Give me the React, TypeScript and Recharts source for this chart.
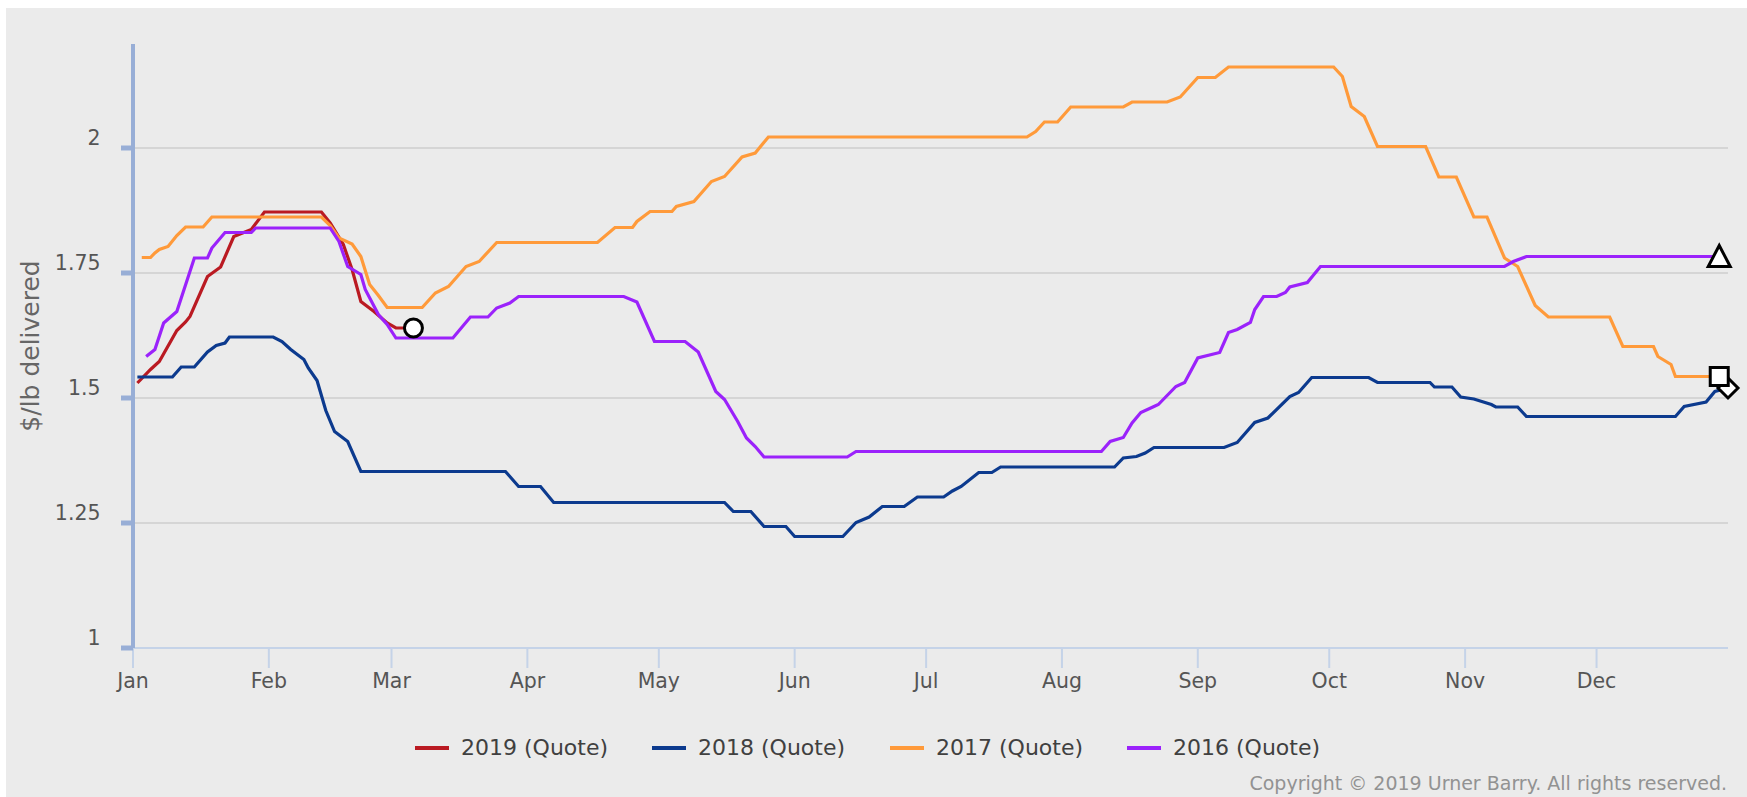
import { LineChart, Line, XAxis, YAxis, CartesianGrid } from 'recharts'

// day of year (0 = Jan 1) and $/lb
const quote2019: [number, number][] = [
  [1, 1.53], [4, 1.557], [6, 1.573], [10, 1.635], [12, 1.652], [13, 1.663], [17, 1.743],
  [20, 1.762], [23, 1.823], [25, 1.83], [27, 1.837], [30, 1.872], [43, 1.872], [45, 1.85],
  [48, 1.807], [50, 1.757], [52, 1.693], [55, 1.673], [58, 1.65], [60, 1.64], [64, 1.64],
]

const quote2018: [number, number][] = [
  [1, 1.542], [9, 1.542], [11, 1.562], [14, 1.562], [17, 1.592], [19, 1.605], [21, 1.61],
  [22, 1.622], [32, 1.622], [34, 1.613], [36, 1.597], [39, 1.577], [40, 1.56], [42, 1.535],
  [44, 1.475], [46, 1.433], [49, 1.413], [52, 1.353], [85, 1.353], [88, 1.323], [93, 1.323],
  [96, 1.291], [135, 1.291], [137, 1.273], [141, 1.273], [144, 1.243], [149, 1.243],
  [151, 1.223], [162, 1.223], [165, 1.251], [168, 1.262], [171, 1.283], [176, 1.283],
  [179, 1.302], [185, 1.302], [187, 1.314], [189, 1.323], [193, 1.351], [196, 1.351],
  [198, 1.362], [224, 1.362], [226, 1.38], [229, 1.383], [231, 1.39], [233, 1.401],
  [249, 1.401], [252, 1.411], [256, 1.451], [259, 1.46], [264, 1.503], [266, 1.511],
  [269, 1.541], [282, 1.541], [284, 1.531], [296, 1.531], [297, 1.522], [301, 1.522],
  [303, 1.502], [306, 1.498], [310, 1.487], [311, 1.482], [316, 1.482], [318, 1.463],
  [352, 1.463], [354, 1.483], [359, 1.492], [361, 1.513], [364, 1.52],
]

const quote2017: [number, number][] = [
  [2, 1.781], [4, 1.781], [5, 1.79], [6, 1.797], [8, 1.803], [10, 1.825], [12, 1.842],
  [16, 1.842], [18, 1.862], [43, 1.862], [45, 1.845], [47, 1.82], [50, 1.808], [52, 1.783],
  [54, 1.727], [56, 1.705], [58, 1.681], [66, 1.681], [69, 1.71], [72, 1.723], [76, 1.763],
  [79, 1.773], [83, 1.811], [106, 1.811], [110, 1.841], [114, 1.841], [115, 1.853],
  [118, 1.873], [123, 1.873], [124, 1.883], [128, 1.893], [132, 1.933], [135, 1.943],
  [139, 1.982], [142, 1.99], [145, 2.022], [204, 2.022], [206, 2.033], [208, 2.052],
  [211, 2.052], [214, 2.082], [226, 2.082], [228, 2.092], [236, 2.092], [239, 2.102],
  [243, 2.141], [247, 2.141], [250, 2.162], [274, 2.162], [276, 2.143], [278, 2.083],
  [281, 2.063], [284, 2.003], [295, 2.003], [298, 1.942], [302, 1.942], [306, 1.862],
  [309, 1.862], [313, 1.78], [316, 1.763], [320, 1.685], [323, 1.662], [337, 1.662],
  [340, 1.603], [347, 1.603], [348, 1.583], [351, 1.567], [352, 1.543], [362, 1.543],
]

const quote2016: [number, number][] = [
  [3, 1.583], [5, 1.597], [7, 1.65], [10, 1.673], [14, 1.78], [17, 1.78], [18, 1.8],
  [21, 1.831], [27, 1.831], [28, 1.84], [45, 1.84], [47, 1.813], [49, 1.763], [52, 1.747],
  [53, 1.717], [56, 1.667], [58, 1.647], [60, 1.62], [73, 1.62], [77, 1.662], [81, 1.662],
  [83, 1.68], [86, 1.69], [88, 1.703], [112, 1.703], [115, 1.692], [119, 1.613],
  [126, 1.613], [129, 1.592], [133, 1.513], [135, 1.497], [138, 1.453], [140, 1.42],
  [142, 1.403], [144, 1.382], [163, 1.382], [165, 1.393], [221, 1.393], [223, 1.413],
  [226, 1.421], [228, 1.45], [230, 1.471], [233, 1.483], [234, 1.487], [238, 1.523],
  [240, 1.531], [243, 1.58], [248, 1.591], [250, 1.631], [252, 1.637], [255, 1.651],
  [256, 1.677], [258, 1.703], [261, 1.703], [263, 1.711], [264, 1.722], [268, 1.731],
  [271, 1.763], [313, 1.763], [315, 1.773], [318, 1.783], [362, 1.783],
]

const monthTicks = [0, 31, 59, 90, 120, 151, 181, 212, 243, 273, 304, 334]
const monthLabels = ['Jan', 'Feb', 'Mar', 'Apr', 'May', 'Jun', 'Jul', 'Aug', 'Sep', 'Oct', 'Nov', 'Dec']
const priceTicks = [1, 1.25, 1.5, 1.75, 2]

const FONT = '"DejaVu Sans", Verdana, sans-serif'
const W = 1741
const H = 789
const PLOT_BOTTOM = 640
const AXIS_BLUE = '#98AED6'

type Shape = 'circle' | 'diamond' | 'square' | 'triangle'

const series: { name: string; rows: [number, number][]; color: string; shape: Shape }[] = [
  { name: '2019 (Quote)', rows: quote2019, color: '#BA1A22', shape: 'circle' },
  { name: '2018 (Quote)', rows: quote2018, color: '#0C3A8E', shape: 'diamond' },
  { name: '2017 (Quote)', rows: quote2017, color: '#FF9A3A', shape: 'square' },
  { name: '2016 (Quote)', rows: quote2016, color: '#9B22FB', shape: 'triangle' },
]

const legendX = [415, 652, 890, 1127]

function EndMarker({ cx, cy, shape }: { cx: number; cy: number; shape: Shape }) {
  const common = { fill: '#fff', stroke: '#000', strokeWidth: 3 }
  if (shape === 'circle') return <circle cx={cx} cy={cy} r={9} {...common} />
  if (shape === 'square') return <rect x={cx - 9} y={cy - 9} width={18} height={18} {...common} />
  if (shape === 'diamond')
    return <path d={`M${cx},${cy - 10}L${cx + 10},${cy}L${cx},${cy + 10}L${cx - 10},${cy}Z`} {...common} />
  return <path d={`M${cx},${cy - 11}L${cx + 11},${cy + 10}L${cx - 11},${cy + 10}Z`} {...common} />
}

const makeDot = (shape: Shape, count: number) => (props: any) => {
  const { cx, cy, index } = props
  if (index !== count - 1) return <g key={`dot-${index}`} />
  return <EndMarker key={`dot-${index}`} cx={cx} cy={cy} shape={shape} />
}

function MonthTick({ x, payload }: any) {
  const i = monthTicks.indexOf(payload.value)
  return (
    <text x={x} y={PLOT_BOTTOM + 40} textAnchor="middle" fill="#555" fontSize={20.5} fontFamily={FONT}>
      {monthLabels[i]}
    </text>
  )
}

function PriceTick({ y, payload }: any) {
  return (
    <text x={94.5} y={y - 3} textAnchor="end" fill="#555" fontSize={20.5} fontFamily={FONT}>
      {String(payload.value)}
    </text>
  )
}

function AxisTitle() {
  return (
    <text
      x={24}
      y={338}
      transform="rotate(-90 24 338)"
      textAnchor="middle"
      dominantBaseline="central"
      fill="#666"
      fontSize={25}
      fontFamily={FONT}
    >
      $/lb delivered
    </text>
  )
}

export default function App() {
  return (
    <div style={{ position: 'absolute', left: 6, top: 8, width: W, height: H, background: '#EBEBEB' }}>
      <LineChart width={W} height={H} margin={{ top: 36, right: 19, bottom: 0, left: 0 }}>
        <CartesianGrid
          horizontal
          vertical={false}
          horizontalValues={priceTicks}
          stroke="#D5D5D5"
          strokeWidth={2}
        />
        <XAxis
          dataKey="d"
          type="number"
          domain={[0, 364]}
          ticks={monthTicks}
          height={149}
          tickSize={20}
          axisLine={{ stroke: '#C5D3E8', strokeWidth: 2 }}
          tickLine={{ stroke: '#C5D3E8', strokeWidth: 2 }}
          tick={<MonthTick />}
        />
        <YAxis
          type="number"
          domain={[1, 2.208]}
          ticks={priceTicks}
          width={127}
          tickSize={12}
          axisLine={{ stroke: AXIS_BLUE, strokeWidth: 4 }}
          tickLine={{ stroke: AXIS_BLUE, strokeWidth: 5 }}
          tick={<PriceTick />}
          label={<AxisTitle />}
        />
        {series.map((s) => {
          const pts = s.rows.map(([d, v]) => ({ d, v }))
          return (
            <Line
              key={s.name}
              data={pts}
              dataKey="v"
              name={s.name}
              type="linear"
              stroke={s.color}
              strokeWidth={3.2}
              dot={makeDot(s.shape, pts.length)}
              activeDot={false}
              isAnimationActive={false}
            />
          )
        })}
      </LineChart>
      {series.map((s, i) => (
        <div key={s.name} style={{ position: 'absolute', left: legendX[i] - 6, top: 729, height: 22, display: 'flex', alignItems: 'center' }}>
          <div style={{ width: 34, height: 4, background: s.color }} />
          <span style={{ marginLeft: 12, fontFamily: FONT, fontSize: 22, lineHeight: '22px', color: '#404040', whiteSpace: 'nowrap' }}>
            {s.name}
          </span>
        </div>
      ))}
      <div
        style={{
          position: 'absolute',
          right: 20,
          top: 766,
          fontFamily: FONT,
          fontSize: 19,
          lineHeight: '19px',
          color: '#929292',
          whiteSpace: 'nowrap',
        }}
      >
        Copyright © 2019 Urner Barry. All rights reserved.
      </div>
    </div>
  )
}
